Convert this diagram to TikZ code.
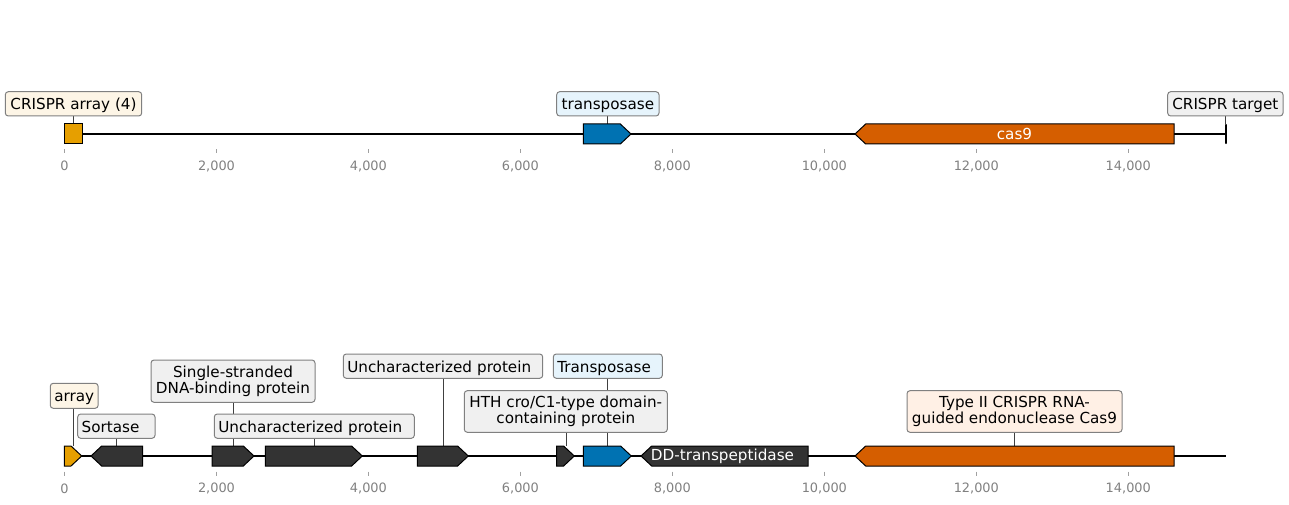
\documentclass[tikz,border=0pt]{standalone}
\usepackage{fontspec}
\setmainfont{DejaVu Sans}
\usetikzlibrary{calc}
\pgfdeclarelayer{bg}
\pgfsetlayers{bg,main}
\definecolor{corange}{HTML}{E69F00}
\definecolor{cblue}{HTML}{0072B2}
\definecolor{cverm}{HTML}{D55E00}
\definecolor{cdark}{HTML}{333333}
\definecolor{lcream}{HTML}{FDF5E6}
\definecolor{lblue}{HTML}{E6F4FC}
\definecolor{lgray}{HTML}{F0F0F0}
\definecolor{lorange}{HTML}{FFF0E5}
\definecolor{lborder}{HTML}{808080}
\definecolor{ticktext}{HTML}{808080}
\definecolor{tickmark}{HTML}{A0A0A0}
\begin{document}
\begin{tikzpicture}[x=1pt,y=-1pt,
  feat/.style={draw=black, line width=1pt, line join=miter},
  backbone/.style={draw=black, line width=1.8pt},
  conn/.style={draw=black!75, line width=0.8pt},
  labbase/.style={draw=lborder, line width=1pt, rounded corners=3pt,
    font=\fontsize{15.2}{16.3}\selectfont, inner xsep=4pt, inner ysep=0pt},
  lab1/.style={labbase, text height=12.3pt, text depth=0pt, minimum height=24.3pt},
  lableft/.style={lab1, align=left},
  lab2/.style={labbase, align=center},
  intext/.style={text=white, font=\fontsize{15.2}{16.3}\selectfont, inner sep=0pt},
  ticklab/.style={text=ticktext, font=\fontsize{12.9}{14}\selectfont, inner sep=0pt},
  tickm/.style={draw=tickmark, line width=0.8pt}]
\useasboundingbox (0,0) rectangle (1289,505);

% ---------------- top track ----------------
\coordinate (tA) at (65,134);
\coordinate (tB) at (1225.7,134);
\begin{pgfonlayer}{bg}
\draw[backbone] (tA) -- (tB);
\end{pgfonlayer}
\draw[feat, fill=corange] (64.3,124) rectangle (82.3,144);
\coordinate (ftArr) at (73.3,124);
\draw[feat, fill=cblue] (583.3,124) -- (620.3,124) -- (631,134) -- (620.3,144) -- (583.3,144) -- cycle;
\coordinate (ftTr) at (607.5,124);
\draw[feat, fill=cverm] (855,134) -- (865.7,124) -- (1174,124) -- (1174,144) -- (865.7,144) -- cycle;
\node[intext] (tcas) at (1014.5,134) {cas9};
\draw[black, line width=2.3pt, line cap=round] (1225.7,125) -- (1225.7,143);
\coordinate (ftTg) at (1225.7,124);

\node[lab1, fill=lcream, minimum width=136.4pt] (ltArr) at (73.5,103.85) {CRISPR array (4)};
\node[lab1, fill=lblue, minimum width=102.3pt] (ltTr) at (607.85,103.85) {transposase};
\node[lab1, fill=lgray, minimum width=115.3pt] (ltTg) at (1225.35,103.85) {CRISPR target};
\begin{pgfonlayer}{bg}
\draw[conn] (ltArr.south -| ftArr) -- (ftArr);
\draw[conn] (ltTr.south -| ftTr) -- (ftTr);
\draw[conn] (ltTg.south -| ftTg) -- (ftTg);
\end{pgfonlayer}

% ---------------- bottom track ----------------
\coordinate (bA) at (65,456);
\coordinate (bB) at (1226,456);
\begin{pgfonlayer}{bg}
\draw[backbone] (bA) -- (bB);
\end{pgfonlayer}
\draw[feat, fill=corange] (64.3,446) -- (71,446) -- (81.7,456) -- (71,466) -- (64.3,466) -- cycle;
\coordinate (fbArr) at (73.3,446);
\draw[feat, fill=cdark] (91,456) -- (101.7,446) -- (142.7,446) -- (142.7,466) -- (101.7,466) -- cycle;
\coordinate (fbSort) at (116.7,446);
\draw[feat, fill=cdark] (212,446) -- (243.3,446) -- (254,456) -- (243.3,466) -- (212,466) -- cycle;
\coordinate (fbSSB) at (233.3,446);
\draw[feat, fill=cdark] (265.3,446) -- (351.6,446) -- (362.3,456) -- (351.6,466) -- (265.3,466) -- cycle;
\coordinate (fbU1) at (314.3,446);
\draw[feat, fill=cdark] (417.3,446) -- (457.6,446) -- (468.3,456) -- (457.6,466) -- (417.3,466) -- cycle;
\coordinate (fbU2) at (443.5,446);
\draw[feat, fill=cdark] (556.7,446) -- (563.6,446) -- (574.3,456) -- (563.6,466) -- (556.7,466) -- cycle;
\coordinate (fbHTH) at (566.3,446);
\draw[feat, fill=cblue] (583.3,446) -- (620.6,446) -- (631.3,456) -- (620.6,466) -- (583.3,466) -- cycle;
\coordinate (fbTr) at (607.8,446);
\draw[feat, fill=cdark] (641,456) -- (651.7,446) -- (808,446) -- (808,466) -- (651.7,466) -- cycle;
\node[intext] (bDD) at (722.5,456) {DD-transpeptidase};
\draw[feat, fill=cverm] (855,456) -- (865.7,446) -- (1174,446) -- (1174,466) -- (865.7,466) -- cycle;
\coordinate (fbCas) at (1014.8,446);

\node[lab1, fill=lcream, minimum width=47pt, minimum height=25pt] (lbArr) at (74.2,395.8) {array};
\node[lableft, fill=lgray, text width=69.3pt] (lbSort) at (116.35,426.15) {Sortase};
\node[lab2, fill=lgray, minimum width=164pt, minimum height=42.3pt] (lbSSB) at (233,381.15) {Single-stranded\\DNA-binding protein};
\node[lableft, fill=lgray, text width=192pt] (lbU1) at (314.3,426.15) {Uncharacterized protein};
\node[lableft, fill=lgray, text width=191.4pt] (lbU2) at (443,366.15) {Uncharacterized protein};
\node[lableft, fill=lblue, text width=101pt] (lbTr) at (607.8,366.15) {Transposase};
\node[lab2, fill=lgray, minimum width=203pt, minimum height=41.6pt] (lbHTH) at (565.8,411.5) {HTH cro/C1-type domain-\\containing protein};
\node[lab2, fill=lorange, minimum width=215pt, minimum height=41.6pt] (lbCas) at (1014.5,411.5) {Type II CRISPR RNA-\\guided endonuclease Cas9};
\begin{pgfonlayer}{bg}
\draw[conn] (lbArr.south -| fbArr) -- (fbArr);
\draw[conn] (lbSort.south -| fbSort) -- (fbSort);
\draw[conn] (lbSSB.south -| fbSSB) -- (fbSSB);
\draw[conn] (lbU1.south -| fbU1) -- (fbU1);
\draw[conn] (lbU2.south -| fbU2) -- (fbU2);
\draw[conn] (lbHTH.south -| fbHTH) -- (fbHTH);
\draw[conn] (lbTr.south -| fbTr) -- (fbTr);
\draw[conn] (lbCas.south -| fbCas) -- (fbCas);
\end{pgfonlayer}

% ---------------- axes ----------------
\foreach \k/\t in {0/0,1/{2,000},2/{4,000},3/{6,000},4/{8,000},5/{10,000},6/{12,000},7/{14,000}}{
  \pgfmathsetmacro{\xx}{64.5+151.97*\k}
  \draw[tickm] (\xx,149.3) -- (\xx,153.3);
  \node[ticklab] (tt\k) at (\xx,166) {\t};
  \draw[tickm] (\xx,471.7) -- (\xx,475.7);
  \node[ticklab] (bt\k) at (\xx,488.5) {\t};
}
\end{tikzpicture}
\end{document}
